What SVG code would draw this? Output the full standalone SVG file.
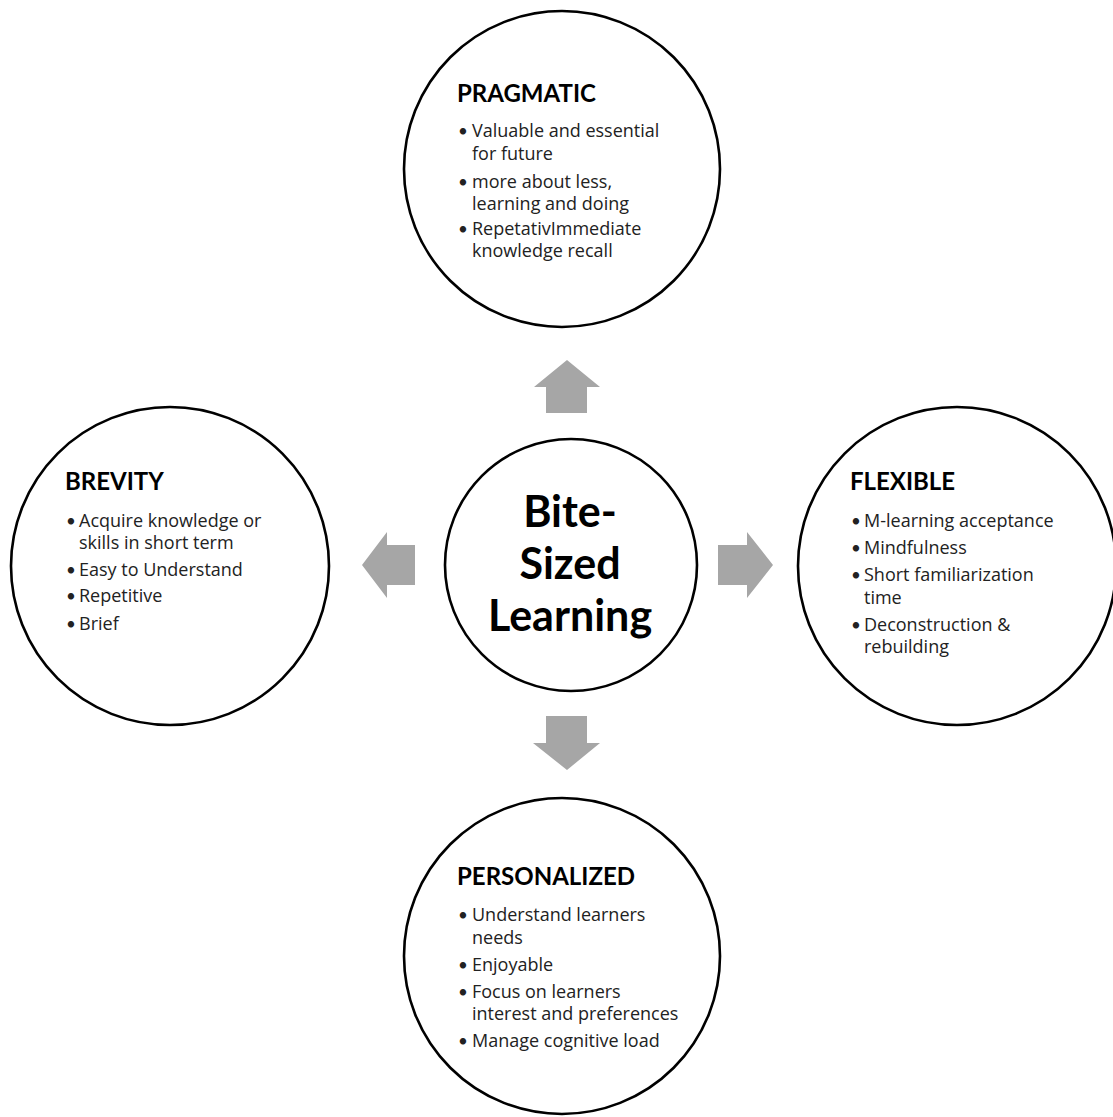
<svg xmlns="http://www.w3.org/2000/svg" width="1113" height="1117" viewBox="0 0 1113 1117">
<style>
.c{fill:#fff;stroke:#000;stroke-width:2.6}
.h{font-family:Lato,"Liberation Sans",sans-serif;font-weight:bold;font-size:24px;fill:#000}
.t{font-family:"Open Sans","Liberation Sans",sans-serif;font-size:18px;fill:#222}
.b{font-family:Lato,"Liberation Sans",sans-serif;font-size:17px}
.m{font-family:Lato,"Liberation Sans",sans-serif;font-weight:bold;font-size:43px;fill:#000;text-anchor:middle}
.a{fill:#a6a6a6}
</style>
<rect width="1113" height="1117" fill="#fff"/>
<g id="connectors">
<polygon class="a" points="567,360 600,387 587,387 587,413 546,413 546,387 534,387"/>
<polygon class="a" points="546,716 587,716 587,743 600,743 567,770 533,743 546,743"/>
<polygon class="a" points="362,565 387,532 387,545 415,545 415,585 387,585 387,598"/>
<polygon class="a" points="718,545 747,545 747,532 773,565 747,598 747,585 718,585"/>
</g>
<g id="pragmatic">
<circle class="c" cx="562" cy="169" r="158"/>
<text class="h" x="457" y="102">PRAGMATIC</text>
<text class="t"><tspan class="b" x="458" y="137">•</tspan><tspan x="472" y="137">Valuable and essential</tspan><tspan x="472" y="160">for future</tspan><tspan class="b" x="458" y="188">•</tspan><tspan x="472" y="188">more about less,</tspan><tspan x="472" y="210">learning and doing</tspan><tspan class="b" x="458" y="235">•</tspan><tspan x="472" y="235">RepetativImmediate</tspan><tspan x="472" y="257">knowledge recall</tspan></text>
</g>
<g id="brevity">
<circle class="c" cx="170" cy="566" r="159"/>
<text class="h" x="65" y="490">BREVITY</text>
<text class="t"><tspan class="b" x="66" y="527">•</tspan><tspan x="79" y="527">Acquire knowledge or</tspan><tspan x="79" y="549">skills in short term</tspan><tspan class="b" x="66" y="576">•</tspan><tspan x="79" y="576">Easy to Understand</tspan><tspan class="b" x="66" y="602">•</tspan><tspan x="79" y="602">Repetitive</tspan><tspan class="b" x="66" y="630">•</tspan><tspan x="79" y="630">Brief</tspan></text>
</g>
<g id="flexible">
<circle class="c" cx="957" cy="566" r="159"/>
<text class="h" x="850" y="490">FLEXIBLE</text>
<text class="t"><tspan class="b" x="851" y="527">•</tspan><tspan x="864" y="527">M-learning acceptance</tspan><tspan class="b" x="851" y="554">•</tspan><tspan x="864" y="554">Mindfulness</tspan><tspan class="b" x="851" y="581">•</tspan><tspan x="864" y="581">Short familiarization</tspan><tspan x="864" y="604">time</tspan><tspan class="b" x="851" y="631">•</tspan><tspan x="864" y="631">Deconstruction &amp;</tspan><tspan x="864" y="653">rebuilding</tspan></text>
</g>
<g id="personalized">
<circle class="c" cx="562" cy="956" r="158"/>
<text class="h" x="457" y="885">PERSONALIZED</text>
<text class="t"><tspan class="b" x="458" y="921">•</tspan><tspan x="472" y="921">Understand learners</tspan><tspan x="472" y="944">needs</tspan><tspan class="b" x="458" y="971">•</tspan><tspan x="472" y="971">Enjoyable</tspan><tspan class="b" x="458" y="998">•</tspan><tspan x="472" y="998">Focus on learners</tspan><tspan x="472" y="1020">interest and preferences</tspan><tspan class="b" x="458" y="1047">•</tspan><tspan x="472" y="1047">Manage cognitive load</tspan></text>
</g>
<g id="center">
<circle class="c" cx="571" cy="565" r="126"/>
<text class="m"><tspan x="570" y="527">Bite-</tspan><tspan x="570" y="579">Sized</tspan><tspan x="570" y="631">Learning</tspan></text>
</g>
</svg>
